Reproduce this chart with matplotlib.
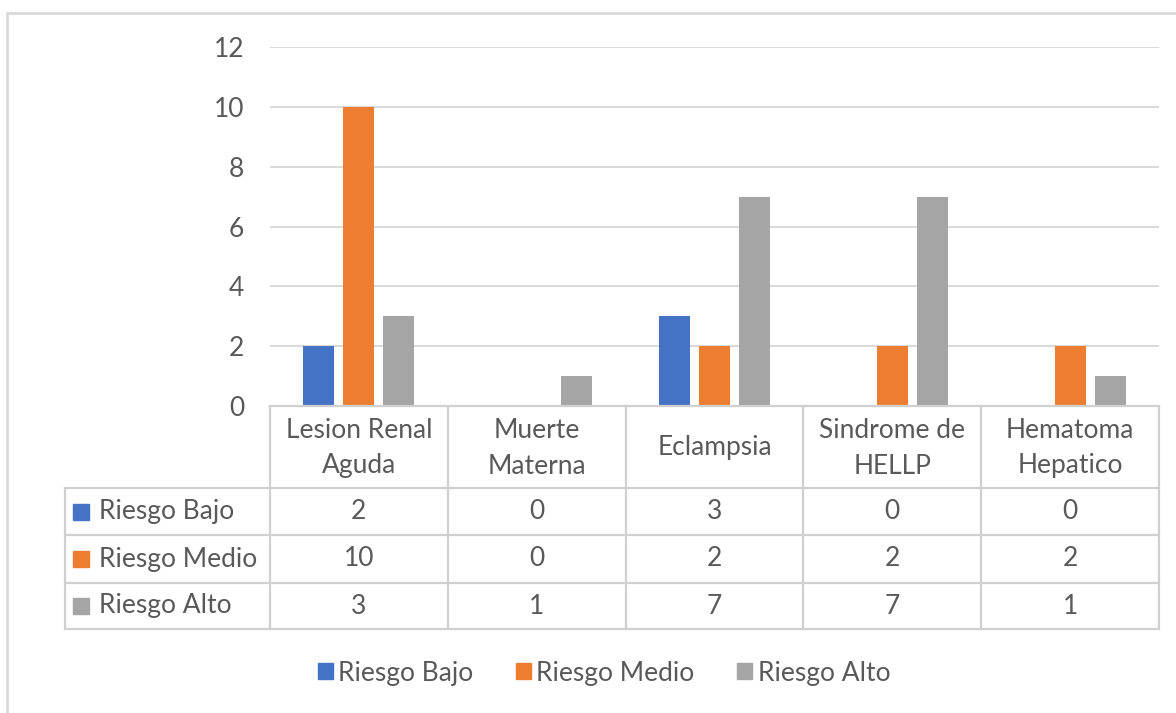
import matplotlib.pyplot as plt
from matplotlib.patches import Rectangle, Patch
from matplotlib.lines import Line2D
from matplotlib.transforms import blended_transform_factory

plt.rcParams['font.family'] = ['Lato', 'DejaVu Sans']

# data
categories = ["Lesion Renal\nAguda", "Muerte\nMaterna", "Eclampsia",
              "Sindrome de\nHELLP", "Hematoma\nHepatico"]
series = ["Riesgo Bajo", "Riesgo Medio", "Riesgo Alto"]
riesgo_bajo = [2, 0, 3, 0, 0]
riesgo_medio = [10, 0, 2, 2, 2]
riesgo_alto = [3, 1, 7, 7, 1]
yticks = [0, 2, 4, 6, 8, 10, 12]

values = [riesgo_bajo, riesgo_medio, riesgo_alto]
colors = ["#4472C4", "#ED7D31", "#A5A5A5"]
text_col = "#595959"
line_col = "#D0D0D0"
fs = 19

W, H = 1176, 713
fig = plt.figure(figsize=(W / 100, H / 100), dpi=100)
ax = fig.add_axes([270 / W, 1 - 406 / H, (1159 - 270) / W, (406 - 47) / H])

# grouped bars
offset = 0.225
width = 0.174
for k, (vals, col) in enumerate(zip(values, colors)):
    xs = [i + (k - 1) * offset for i in range(len(categories))]
    ax.bar(xs, vals, width=width, color=col, zorder=3)

ax.set_xlim(-0.5, len(categories) - 0.5)
ax.set_ylim(0, 12)
ax.set_yticks(yticks)
ax.set_xticks([])
for s in ax.spines.values():
    s.set_visible(False)
ax.grid(axis='y', color='#D9D9D9', lw=1.4)
ax.set_axisbelow(True)
ax.tick_params(axis='y', length=0, pad=18.5, labelsize=fs, labelcolor=text_col)


def fy(y):
    return 1 - y / H


# data table under the axis
tr = blended_transform_factory(ax.transData, fig.transFigure)
col_w = (1159 - 270) / len(categories)
x_left = -0.5 - (270 - 65) / col_w
x_right = len(categories) - 0.5
row_lines = [488, 535, 583, 629]

fig.add_artist(Line2D([-0.5, x_right], [fy(406), fy(406)], transform=tr,
                      color=line_col, lw=1.6))
for y in row_lines:
    fig.add_artist(Line2D([x_left, x_right], [fy(y), fy(y)], transform=tr,
                          color=line_col, lw=1.6))
for i in range(len(categories) + 1):
    x = i - 0.5
    fig.add_artist(Line2D([x, x], [fy(406), fy(629)], transform=tr,
                          color=line_col, lw=1.6))
fig.add_artist(Line2D([x_left, x_left], [fy(488), fy(629)], transform=tr,
                      color=line_col, lw=1.6))

for i, cat in enumerate(categories):
    fig.text(i, fy(448), cat, transform=tr, ha='center', va='center',
             fontsize=fs, color=text_col, linespacing=1.55)

row_centers = [511.5, 559, 606]
for name, vals, col, yc in zip(series, values, colors, row_centers):
    fig.add_artist(Rectangle((73 / W, fy(yc + 8)), 16 / W, 16 / H,
                             transform=fig.transFigure, color=col))
    fig.text(99 / W, fy(yc), name, ha='left', va='center',
             fontsize=fs, color=text_col)
    for i, v in enumerate(vals):
        fig.text(i, fy(yc), str(v), transform=tr, ha='center', va='center',
                 fontsize=fs, color=text_col)

# legend
handles = [Patch(color=c) for c in colors]
fig.legend(handles, series, loc='center', bbox_to_anchor=(604 / W, fy(673)),
           ncol=3, frameon=False, fontsize=fs, handlelength=0.58,
           handleheight=0.58, handletextpad=0.2, columnspacing=1.6,
           labelcolor=text_col)

# chart frame
fig.add_artist(Rectangle((7 / W, -0.1), 1.2, fy(13) + 0.1,
                         transform=fig.transFigure, fill=False,
                         edgecolor='#D9D9D9', lw=2))

fig.savefig('out.png', dpi=100)
